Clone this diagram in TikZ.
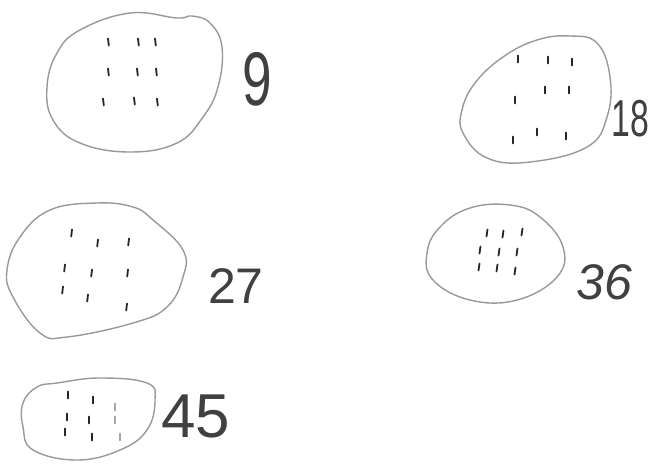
\documentclass[tikz,border=0pt]{standalone}
\usepackage{fontspec}
\setmainfont{Liberation Sans}
\begin{document}
\begin{tikzpicture}[x=1pt,y=-1pt,
  blob/.style={draw=black!40,line width=1.4pt,smooth cycle,tension=0.7},
  tick/.style={line width=1.8pt,line cap=round,black!85},
  lbl/.style={inner sep=0pt,text=black!75}]
\useasboundingbox (0,0) rectangle (653,464);
\fill[white] (0,0) rectangle (653,464);
% blob 1
\draw[blob] plot coordinates {(80,30) (130,13) (177,18) (192,16) (210,23) (222,47) (218,87) (203,117) (177,143) (130,152) (80,143) (53,120) (47,87) (57,53)};
\foreach \p in {(108,42),(138,42),(155,42),(108,72),(137,72),(156,72),(103,102),(134,101),(157,102)}
  \draw[tick] \p ++(0,-3.5) -- ++(0.8,7);
\node[lbl] (n9) at (257,79) {\scalebox{0.7}[1]{\fontsize{76}{76}\selectfont 9}};
% blob 2
\draw[blob] plot coordinates {(537,40) (570,36) (597,43) (610,77) (607,117) (587,147) (530,162) (487,158) (463,133) (462,110) (475,83) (503,57)};
\foreach \p in {(518,59),(548,60),(572,62),(515,100),(545,90),(569,90),(513,140),(537,132),(566,136)}
  \draw[tick] \p ++(0,-3.5) -- ++(0,7);
\node[lbl] (n18) at (630,119) {\scalebox{0.65}[1]{\fontsize{52}{52}\selectfont 18}};
% blob 3
\draw[blob] plot coordinates {(50,210) (97,203) (133,207) (153,220) (183,250) (183,277) (167,307) (133,323) (67,337) (40,333) (13,297) (7,270) (20,237)};
\foreach \p in {(72,233),(98,243),(129,242),(65,268),(92,273),(128,273),(63,290),(88,298),(127,307)}
  \draw[tick] \p ++(0,-3.5) -- ++(-0.8,7);
\node[lbl] (n27) at (236,286) {\fontsize{50}{50}\selectfont 27};
% blob 4
\draw[blob] plot coordinates {(510,205) (540,217) (563,247) (557,277) (517,300) (470,300) (433,280) (427,253) (440,227) (470,208)};
\foreach \p in {(487,233),(503,234),(522,232),(480,250),(499,252),(517,252),(479,267),(497,268),(515,271)}
  \draw[tick] \p ++(0.5,-3.5) -- ++(-1,7);
\node[lbl] (n36) at (604,282) {\fontsize{50}{50}\selectfont\itshape 36};
% blob 5
\draw[blob] plot coordinates {(57,383) (100,378) (147,383) (155,400) (147,430) (120,450) (77,460) (33,450) (23,427) (23,403) (37,387)};
\foreach \p in {(68,395),(93,400),(67,417),(89,420),(65,432),(92,437)}
  \draw[tick] \p ++(0,-3.5) -- ++(0,7);
\foreach \p in {(115,407),(115,420),(120,437)}
  \draw[tick,black!35] \p ++(0,-3.5) -- ++(0,7);
\node[lbl] (n45) at (196,416) {\fontsize{62}{62}\selectfont 45};
\end{tikzpicture}
\end{document}
